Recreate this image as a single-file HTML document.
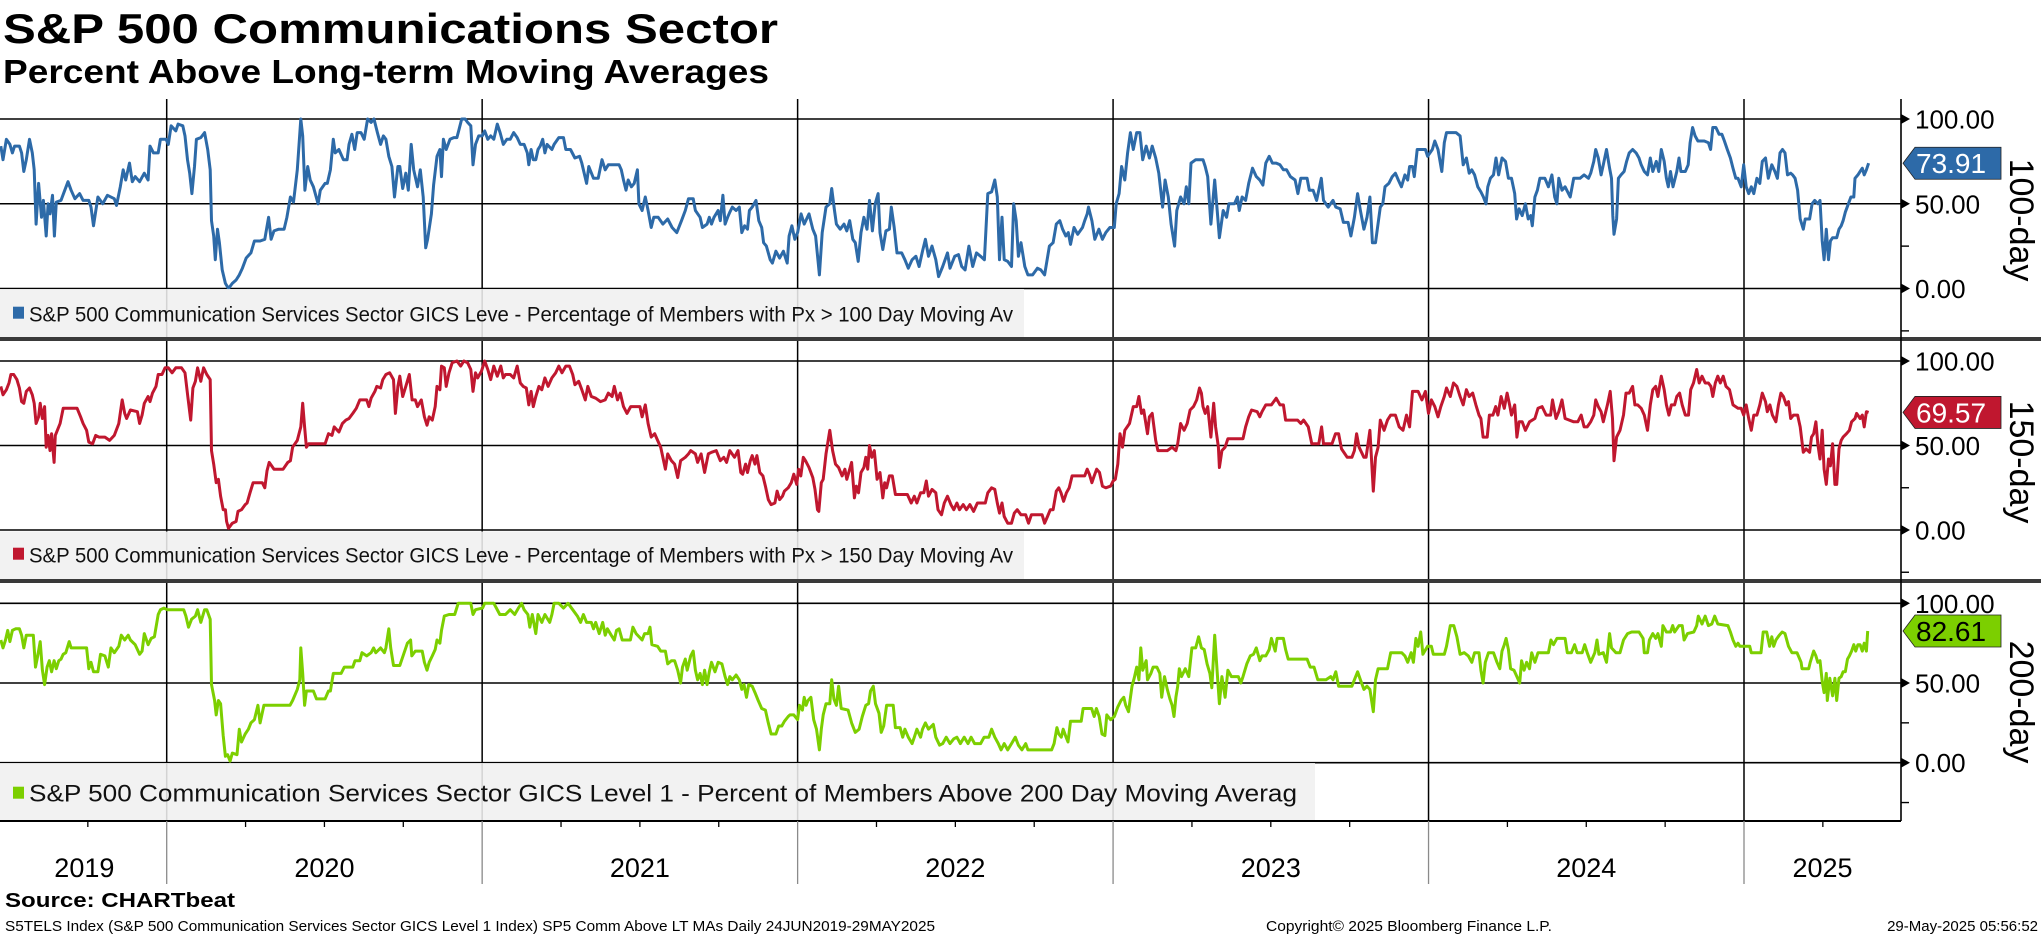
<!DOCTYPE html>
<html><head><meta charset="utf-8"><title>S&amp;P 500 Communications Sector</title>
<style>
html,body{margin:0;padding:0;background:#fff;width:2041px;height:936px;overflow:hidden}
svg{display:block;font-family:"Liberation Sans",sans-serif}
</style></head>
<body>
<svg id="chart" width="2041" height="936" viewBox="0 0 2041 936" xmlns="http://www.w3.org/2000/svg">
<text x="3" y="43" font-size="42" font-weight="bold" textLength="775" lengthAdjust="spacingAndGlyphs">S&amp;P 500 Communications Sector</text>
<text x="3" y="83" font-size="33" font-weight="bold" textLength="766" lengthAdjust="spacingAndGlyphs">Percent Above Long-term Moving Averages</text>
<text x="5" y="907" font-size="20" font-weight="bold" textLength="230" lengthAdjust="spacingAndGlyphs">Source: CHARTbeat</text>
<text x="5" y="931" font-size="15" textLength="930" lengthAdjust="spacingAndGlyphs">S5TELS Index (S&amp;P 500 Communication Services Sector GICS Level 1 Index) SP5 Comm Above LT MAs  Daily 24JUN2019-29MAY2025</text>
<text x="1266" y="931" font-size="15" textLength="286" lengthAdjust="spacingAndGlyphs">Copyright© 2025 Bloomberg Finance L.P.</text>
<text x="2038" y="931" font-size="15" text-anchor="end">29-May-2025 05:56:52</text>
</svg>
<script>
const d100=[2019.474,2019.481,2019.492,2019.503,2019.511,2019.518,2019.533,2019.540,2019.547,2019.555,2019.565,2019.574,2019.580,2019.586,2019.594,2019.603,2019.609,2019.618,2019.624,2019.630,2019.638,2019.644,2019.650,2019.665,2019.677,2019.687,2019.697,2019.709,2019.724,2019.735,2019.753,2019.760,2019.768,2019.782,2019.797,2019.812,2019.834,2019.841,2019.853,2019.862,2019.870,2019.882,2019.891,2019.900,2019.914,2019.929,2019.941,2019.947,2019.958,2019.973,2019.980,2019.998,2020.005,2020.014,2020.029,2020.036,2020.051,2020.058,2020.066,2020.073,2020.080,2020.088,2020.094,2020.108,2020.120,2020.130,2020.138,2020.142,2020.149,2020.154,2020.161,2020.167,2020.176,2020.186,2020.196,2020.208,2020.220,2020.230,2020.240,2020.252,2020.267,2020.278,2020.296,2020.311,2020.323,2020.331,2020.340,2020.355,2020.372,2020.381,2020.392,2020.402,2020.414,2020.425,2020.431,2020.438,2020.447,2020.455,2020.465,2020.480,2020.487,2020.502,2020.509,2020.519,2020.528,2020.534,2020.546,2020.560,2020.572,2020.578,2020.587,2020.596,2020.604,2020.616,2020.626,2020.637,2020.648,2020.657,2020.668,2020.678,2020.687,2020.695,2020.704,2020.714,2020.722,2020.733,2020.739,2020.748,2020.758,2020.766,2020.775,2020.783,2020.795,2020.804,2020.813,2020.821,2020.827,2020.839,2020.846,2020.857,2020.866,2020.871,2020.877,2020.886,2020.898,2020.910,2020.920,2020.927,2020.935,2020.946,2020.954,2020.964,2020.971,2020.979,2020.989,2021.000,2021.008,2021.018,2021.027,2021.037,2021.048,2021.057,2021.067,2021.078,2021.089,2021.100,2021.111,2021.121,2021.133,2021.143,2021.148,2021.155,2021.162,2021.170,2021.177,2021.184,2021.192,2021.199,2021.206,2021.221,2021.228,2021.243,2021.258,2021.265,2021.280,2021.294,2021.309,2021.316,2021.331,2021.338,2021.353,2021.368,2021.380,2021.390,2021.400,2021.419,2021.434,2021.441,2021.448,2021.456,2021.463,2021.473,2021.482,2021.492,2021.497,2021.507,2021.517,2021.526,2021.536,2021.544,2021.558,2021.573,2021.588,2021.602,2021.617,2021.632,2021.644,2021.654,2021.669,2021.676,2021.691,2021.698,2021.713,2021.720,2021.727,2021.735,
2021.748,2021.755,2021.763,2021.770,2021.778,2021.785,2021.793,2021.805,2021.815,2021.823,2021.832,2021.841,2021.847,2021.856,2021.868,2021.877,2021.886,2021.892,2021.901,2021.913,2021.920,2021.931,2021.943,2021.955,2021.967,2021.973,2021.982,2021.991,2022.000,2022.011,2022.021,2022.036,2022.048,2022.057,2022.069,2022.078,2022.090,2022.102,2022.108,2022.117,2022.123,2022.135,2022.147,2022.156,2022.165,2022.175,2022.183,2022.192,2022.201,2022.210,2022.220,2022.228,2022.237,2022.246,2022.255,2022.261,2022.270,2022.280,2022.291,2022.297,2022.306,2022.315,2022.330,2022.340,2022.351,2022.363,2022.375,2022.385,2022.396,2022.405,2022.415,2022.426,2022.438,2022.447,2022.460,2022.475,2022.483,2022.498,2022.510,2022.520,2022.531,2022.543,2022.555,2022.567,2022.580,2022.592,2022.603,2022.615,2022.625,2022.633,2022.640,2022.648,2022.655,2022.666,2022.678,2022.685,2022.693,2022.700,2022.708,2022.720,2022.730,2022.745,2022.760,2022.771,2022.783,2022.798,2022.810,2022.820,2022.831,2022.840,2022.850,2022.858,2022.865,2022.876,2022.888,2022.903,2022.910,2022.918,2022.922,2022.933,2022.942,2022.955,2022.966,2022.977,2022.990,2023.004,2023.010,2023.019,2023.027,2023.037,2023.046,2023.055,2023.064,2023.075,2023.085,2023.094,2023.105,2023.115,2023.124,2023.135,2023.145,2023.157,2023.165,2023.175,2023.184,2023.195,2023.202,2023.214,2023.225,2023.232,2023.240,2023.247,2023.262,2023.285,2023.292,2023.300,2023.310,2023.322,2023.330,2023.337,2023.349,2023.360,2023.367,2023.385,2023.394,2023.400,2023.409,2023.420,2023.430,2023.442,2023.454,2023.465,2023.475,2023.484,2023.495,2023.505,2023.517,2023.529,2023.540,2023.550,2023.562,2023.577,2023.586,2023.595,2023.615,2023.622,2023.634,2023.645,2023.660,2023.667,2023.682,2023.697,2023.706,2023.720,2023.730,2023.745,2023.754,2023.765,2023.775,2023.784,2023.795,2023.805,2023.814,2023.822,2023.832,2023.847,2023.855,2023.862,2023.874,2023.885,2023.895,2023.904,2023.914,2023.925,2023.934,2023.940,2023.949,2023.955,2023.964,2023.990,2023.997,2024.012,2024.020,2024.030,2024.042,2024.050,2024.057,2024.087,
2024.100,2024.110,2024.120,2024.129,2024.137,2024.146,2024.156,2024.166,2024.174,2024.182,2024.188,2024.196,2024.206,2024.214,2024.222,2024.233,2024.244,2024.253,2024.263,2024.273,2024.279,2024.287,2024.297,2024.307,2024.316,2024.324,2024.329,2024.337,2024.345,2024.353,2024.369,2024.380,2024.391,2024.400,2024.407,2024.413,2024.423,2024.433,2024.449,2024.460,2024.480,2024.493,2024.507,2024.514,2024.524,2024.530,2024.538,2024.547,2024.554,2024.564,2024.574,2024.580,2024.584,2024.588,2024.596,2024.602,2024.610,2024.620,2024.628,2024.636,2024.647,2024.658,2024.667,2024.674,2024.684,2024.694,2024.703,2024.711,2024.722,2024.730,2024.738,2024.747,2024.754,2024.760,2024.767,2024.775,2024.787,2024.794,2024.800,2024.814,2024.823,2024.829,2024.837,2024.845,2024.854,2024.874,2024.887,2024.894,2024.901,2024.911,2024.921,2024.930,2024.938,2024.947,2024.957,2024.965,2024.974,2024.981,2024.991,2024.999,2025.007,2025.015,2025.023,2025.031,2025.041,2025.050,2025.058,2025.068,2025.077,2025.088,2025.098,2025.106,2025.114,2025.122,2025.130,2025.138,2025.148,2025.154,2025.162,2025.170,2025.178,2025.188,2025.194,2025.208,2025.216,2025.224,2025.234,2025.241,2025.248,2025.254,2025.261,2025.268,2025.274,2025.281,2025.294,2025.301,2025.308,2025.314,2025.321,2025.331,2025.339,2025.348,2025.352,2025.361,2025.368,2025.375,2025.381,2025.388,2025.395];
const v100=[84,76,88,85,80,84,84,80,69,76,88,80,70,38,62,42,52,31,50,44,55,31,51,52,58,63,58,53,56,52,52,48,37,54,50,55,53,49,60,70,64,74,63,66,63,68,64,84,80,80,88,88,85,96,93,97,96,90,76,68,56,72,88,89,92,82,70,40,31,17,35,27,11,3,0,3,5,8,12,18,21,28,28,29,42,29,34,35,35,42,54,51,70,100,90,58,72,64,60,50,58,62,62,70,88,80,82,76,76,85,91,82,92,92,88,100,98,100,92,85,90,88,78,72,54,72,72,59,68,58,85,70,60,70,54,24,29,44,61,78,82,66,88,82,88,89,89,94,100,100,98,96,73,85,90,90,93,88,90,88,97,92,85,88,88,92,89,85,85,80,73,82,76,76,82,84,88,80,85,82,85,89,89,82,82,77,78,74,62,72,65,65,76,70,73,73,73,70,64,58,64,60,62,70,50,46,54,46,36,42,42,38,41,36,33,40,46,53,53,46,42,36,38,42,38,42,
46,40,55,38,42,45,48,46,48,33,37,35,46,48,52,40,36,27,25,17,15,22,18,22,15,31,37,29,33,44,38,44,35,31,8,33,48,50,59,46,38,35,38,34,40,29,27,16,33,42,35,52,34,50,56,33,23,34,35,48,36,21,21,17,12,17,19,13,22,29,19,25,17,7,13,21,12,19,20,13,11,25,13,21,19,17,56,57,64,54,17,42,17,16,13,50,40,19,27,13,8,8,12,11,8,25,27,38,40,35,31,33,26,36,32,36,40,44,48,40,29,35,29,33,36,36,50,56,72,64,80,92,82,92,92,76,84,77,84,77,68,48,64,54,38,25,46,54,50,60,50,74,76,76,72,66,38,64,46,30,46,42,50,50,54,46,54,52,62,71,66,64,61,74,78,74,74,73,70,70,66,64,56,65,65,58,58,52,65,52,48,52,48,47,39,39,31,42,56,46,35,42,54,27,27,48,50,60,62,66,68,64,60,67,64,72,72,66,82,82,78,82,87,82,69,86,92,92,
90,73,77,68,70,67,60,57,54,50,60,65,67,77,67,77,75,65,65,56,41,47,43,50,41,43,37,54,58,65,65,60,67,54,50,65,58,60,54,65,65,67,65,68,75,82,77,67,73,82,71,65,43,32,41,65,67,69,75,80,82,80,77,73,69,67,77,69,75,69,82,75,65,60,69,60,69,77,69,69,73,86,95,90,87,87,86,82,95,95,91,91,87,82,77,71,65,65,60,73,60,56,60,56,65,62,75,77,65,73,69,65,80,82,80,67,68,67,65,58,41,35,41,41,50,52,50,52,28,17,35,17,28,30,30,35,37,40,45,50,54,54,65,67,69,71,67,70,73.91];

const d150=[2019.474,2019.481,2019.492,2019.500,2019.506,2019.515,2019.525,2019.533,2019.540,2019.547,2019.555,2019.565,2019.574,2019.580,2019.586,2019.594,2019.599,2019.606,2019.613,2019.618,2019.624,2019.630,2019.635,2019.643,2019.647,2019.662,2019.672,2019.716,2019.727,2019.735,2019.746,2019.753,2019.765,2019.775,2019.785,2019.804,2019.819,2019.834,2019.848,2019.859,2019.867,2019.873,2019.885,2019.907,2019.914,2019.922,2019.929,2019.941,2019.947,2019.955,2019.966,2019.973,2019.985,2019.995,2020.005,2020.017,2020.029,2020.047,2020.058,2020.067,2020.076,2020.083,2020.091,2020.098,2020.108,2020.117,2020.127,2020.138,2020.142,2020.149,2020.157,2020.164,2020.171,2020.179,2020.186,2020.190,2020.196,2020.208,2020.220,2020.226,2020.237,2020.249,2020.255,2020.264,2020.274,2020.303,2020.311,2020.318,2020.325,2020.340,2020.369,2020.384,2020.392,2020.399,2020.414,2020.425,2020.431,2020.437,2020.443,2020.450,2020.502,2020.513,2020.524,2020.531,2020.546,2020.557,2020.568,2020.578,2020.590,2020.601,2020.612,2020.634,2020.641,2020.648,2020.660,2020.666,2020.678,2020.685,2020.695,2020.707,2020.719,2020.725,2020.733,2020.739,2020.748,2020.758,2020.769,2020.778,2020.788,2020.795,2020.807,2020.817,2020.825,2020.832,2020.842,2020.851,2020.857,2020.866,2020.871,2020.880,2020.886,2020.895,2020.905,2020.920,2020.932,2020.942,2020.954,2020.964,2020.971,2020.979,2020.986,2020.998,2021.008,2021.018,2021.027,2021.037,2021.048,2021.059,2021.067,2021.074,2021.089,2021.100,2021.111,2021.121,2021.130,2021.140,2021.148,2021.155,2021.162,2021.170,2021.180,2021.189,2021.199,2021.209,2021.221,2021.233,2021.243,2021.253,2021.265,2021.277,2021.287,2021.294,2021.306,2021.316,2021.327,2021.335,2021.346,2021.360,2021.375,2021.390,2021.400,2021.412,2021.419,2021.429,2021.438,2021.448,2021.459,2021.471,2021.500,2021.507,2021.517,2021.526,2021.536,2021.547,2021.556,2021.566,2021.581,2021.588,2021.600,2021.610,2021.620,2021.629,2021.644,2021.654,2021.661,2021.676,2021.683,2021.694,2021.705,2021.717,2021.727,2021.742,
2021.755,2021.766,2021.775,2021.785,2021.800,2021.811,2021.820,2021.826,2021.835,2021.841,2021.850,2021.856,2021.865,2021.871,2021.880,2021.890,2021.898,2021.907,2021.916,2021.928,2021.935,2021.943,2021.952,2021.958,2021.970,2021.980,2021.988,2021.997,2022.003,2022.010,2022.018,2022.025,2022.036,2022.042,2022.048,2022.055,2022.063,2022.067,2022.075,2022.081,2022.090,2022.102,2022.111,2022.120,2022.130,2022.141,2022.150,2022.156,2022.165,2022.171,2022.180,2022.186,2022.193,2022.201,2022.210,2022.216,2022.222,2022.228,2022.235,2022.243,2022.252,2022.261,2022.270,2022.276,2022.282,2022.291,2022.300,2022.310,2022.348,2022.360,2022.370,2022.378,2022.390,2022.400,2022.408,2022.415,2022.426,2022.438,2022.445,2022.456,2022.465,2022.475,2022.486,2022.495,2022.505,2022.513,2022.525,2022.535,2022.546,2022.558,2022.570,2022.595,2022.603,2022.615,2022.625,2022.633,2022.640,2022.648,2022.655,2022.666,2022.678,2022.687,2022.696,2022.708,2022.723,2022.732,2022.741,2022.775,2022.783,2022.792,2022.801,2022.810,2022.820,2022.828,2022.835,2022.843,2022.852,2022.861,2022.870,2022.910,2022.918,2022.925,2022.933,2022.940,2022.948,2022.957,2022.966,2022.977,2022.992,2023.000,2023.007,2023.015,2023.022,2023.030,2023.037,2023.052,2023.064,2023.075,2023.082,2023.090,2023.097,2023.109,2023.115,2023.124,2023.135,2023.142,2023.157,2023.172,2023.187,2023.199,2023.205,2023.214,2023.225,2023.235,2023.244,2023.255,2023.265,2023.274,2023.280,2023.285,2023.292,2023.300,2023.310,2023.319,2023.325,2023.334,2023.337,2023.345,2023.355,2023.364,2023.412,2023.420,2023.430,2023.439,2023.457,2023.465,2023.472,2023.484,2023.502,2023.517,2023.529,2023.540,2023.547,2023.585,2023.595,2023.604,2023.619,2023.630,2023.652,2023.661,2023.667,2023.694,2023.705,2023.715,2023.724,2023.735,2023.742,2023.757,2023.765,2023.772,2023.780,2023.795,2023.802,2023.814,2023.825,2023.832,2023.840,2023.847,2023.859,2023.870,2023.880,2023.895,2023.907,2023.919,2023.930,2023.940,2023.949,2023.967,2023.979,2023.990,2024.000,2024.009,2024.020,2024.030,2024.039,2024.050,2024.057,2024.069,2024.079,2024.090,
2024.100,2024.110,2024.120,2024.129,2024.140,2024.150,2024.160,2024.166,2024.173,2024.186,2024.193,2024.204,2024.213,2024.220,2024.230,2024.240,2024.249,2024.257,2024.263,2024.273,2024.280,2024.287,2024.297,2024.307,2024.320,2024.337,2024.347,2024.360,2024.373,2024.387,2024.393,2024.404,2024.413,2024.423,2024.433,2024.460,2024.473,2024.484,2024.493,2024.503,2024.514,2024.524,2024.530,2024.538,2024.547,2024.554,2024.567,2024.576,2024.583,2024.588,2024.596,2024.607,2024.618,2024.626,2024.636,2024.647,2024.654,2024.663,2024.674,2024.684,2024.694,2024.703,2024.711,2024.720,2024.727,2024.738,2024.747,2024.754,2024.762,2024.770,2024.780,2024.787,2024.796,2024.804,2024.814,2024.824,2024.831,2024.840,2024.850,2024.858,2024.867,2024.877,2024.887,2024.895,2024.901,2024.909,2024.917,2024.925,2024.934,2024.943,2024.954,2024.965,2024.981,2024.991,2024.999,2025.007,2025.015,2025.023,2025.031,2025.041,2025.050,2025.058,2025.068,2025.074,2025.082,2025.090,2025.101,2025.109,2025.117,2025.125,2025.134,2025.141,2025.148,2025.157,2025.170,2025.178,2025.188,2025.197,2025.208,2025.214,2025.221,2025.228,2025.234,2025.241,2025.248,2025.254,2025.261,2025.268,2025.274,2025.281,2025.288,2025.294,2025.301,2025.308,2025.314,2025.325,2025.334,2025.341,2025.352,2025.357,2025.368,2025.375,2025.381,2025.388,2025.395];
const v150=[85,80,83,87,92,92,89,84,76,75,82,84,80,75,63,67,75,66,73,49,56,47,57,40,56,63,72,72,67,63,59,52,51,56,55,55,53,56,63,77,69,66,71,70,63,68,75,79,76,81,85,92,92,96,96,93,96,96,93,79,65,84,88,96,88,96,92,89,47,39,28,30,20,12,12,5,1,4,5,11,12,15,16,22,28,28,25,35,40,36,36,40,41,49,53,61,75,61,49,51,51,57,56,61,58,63,65,66,69,72,77,77,73,78,82,85,84,89,92,93,89,69,85,91,79,85,92,77,77,73,77,67,62,67,65,73,85,83,97,96,85,93,99,100,97,100,99,95,82,93,90,94,100,95,89,97,91,97,90,92,92,90,97,87,85,84,74,82,73,79,85,83,90,85,90,93,97,93,97,97,92,86,88,83,77,85,79,78,76,77,81,79,85,77,81,73,69,73,73,67,74,63,55,57,53,49,36,45,41,39,31,41,43,45,47,45,40,45,34,45,46,47,
41,43,40,47,43,47,34,33,39,34,41,44,39,44,34,32,26,18,15,16,23,18,20,23,25,28,33,27,36,32,43,41,37,34,31,24,12,11,28,30,45,59,47,39,37,32,36,30,36,40,19,26,22,34,37,43,36,50,43,47,30,34,19,28,25,32,32,21,21,16,20,16,22,22,29,20,24,22,12,9,16,20,15,12,16,12,15,12,15,11,16,16,22,25,24,16,10,16,8,4,4,10,12,9,9,4,9,9,4,8,12,12,23,25,22,17,22,25,32,32,36,33,28,32,36,34,26,25,26,29,30,39,57,49,59,63,73,73,79,69,71,57,67,69,53,47,47,47,49,47,51,63,59,63,71,73,77,84,81,73,69,73,55,75,61,49,37,47,49,54,54,61,67,71,70,67,70,74,74,78,74,74,65,65,63,65,61,51,51,61,51,51,57,57,48,45,43,43,47,57,49,43,43,59,23,43,49,65,59,65,68,68,61,59,68,61,82,82,77,82,69,77,73,67,73,79,84,79,87,85,
79,74,83,79,81,74,68,66,55,55,68,68,73,68,79,72,81,74,68,74,55,64,64,59,64,66,72,73,68,68,77,66,70,77,66,64,64,68,61,61,64,68,77,73,70,64,74,82,66,41,55,59,68,81,81,85,74,74,72,68,59,74,83,85,79,91,83,74,68,74,74,79,81,74,68,68,83,87,95,87,91,87,87,85,79,87,91,87,91,85,83,74,72,72,68,74,66,59,68,68,74,81,76,70,74,68,64,74,81,79,74,76,66,68,68,61,46,48,46,55,57,64,51,42,59,36,27,42,38,51,27,27,48,53,55,57,59,64,66,69,66,68,61,70,69.57];

const d200=[2019.474,2019.481,2019.489,2019.496,2019.503,2019.511,2019.521,2019.533,2019.540,2019.547,2019.555,2019.577,2019.584,2019.591,2019.599,2019.606,2019.613,2019.621,2019.628,2019.635,2019.643,2019.650,2019.658,2019.665,2019.672,2019.680,2019.691,2019.697,2019.746,2019.753,2019.760,2019.768,2019.782,2019.790,2019.804,2019.815,2019.823,2019.834,2019.848,2019.856,2019.867,2019.878,2019.885,2019.900,2019.914,2019.922,2019.929,2019.941,2019.951,2019.961,2019.973,2019.980,2019.991,2020.002,2020.054,2020.061,2020.069,2020.079,2020.091,2020.098,2020.108,2020.120,2020.127,2020.138,2020.142,2020.152,2020.157,2020.164,2020.171,2020.179,2020.186,2020.193,2020.201,2020.208,2020.223,2020.230,2020.237,2020.249,2020.259,2020.267,2020.278,2020.289,2020.296,2020.308,2020.391,2020.399,2020.414,2020.422,2020.425,2020.431,2020.437,2020.443,2020.465,2020.475,2020.502,2020.513,2020.519,2020.528,2020.553,2020.563,2020.590,2020.597,2020.612,2020.619,2020.634,2020.648,2020.656,2020.663,2020.678,2020.690,2020.695,2020.704,2020.710,2020.719,2020.739,2020.751,2020.763,2020.773,2020.777,2020.788,2020.810,2020.817,2020.825,2020.832,2020.842,2020.851,2020.857,2020.866,2020.871,2020.880,2020.895,2020.913,2020.924,2020.964,2020.971,2020.979,2021.001,2021.008,2021.037,2021.045,2021.056,2021.074,2021.089,2021.103,2021.115,2021.125,2021.133,2021.145,2021.151,2021.159,2021.170,2021.177,2021.189,2021.199,2021.214,2021.221,2021.228,2021.243,2021.258,2021.272,2021.287,2021.302,2021.312,2021.321,2021.331,2021.346,2021.353,2021.360,2021.371,2021.382,2021.390,2021.397,2021.409,2021.419,2021.426,2021.434,2021.444,2021.470,2021.478,2021.488,2021.507,2021.515,2021.526,2021.532,2021.538,2021.556,2021.566,2021.581,2021.588,2021.600,2021.610,2021.620,2021.629,2021.635,2021.644,2021.650,2021.661,2021.669,2021.676,2021.683,2021.691,2021.698,2021.705,2021.713,2021.720,2021.727,2021.738,
2021.748,2021.760,2021.770,2021.778,2021.785,2021.793,2021.805,2021.815,2021.823,2021.830,2021.838,2021.845,2021.856,2021.865,2021.875,2021.886,2021.898,2021.907,2021.916,2021.931,2021.940,2021.950,2021.958,2021.970,2021.976,2021.988,2022.000,2022.006,2022.015,2022.021,2022.027,2022.033,2022.042,2022.051,2022.060,2022.069,2022.075,2022.081,2022.090,2022.102,2022.108,2022.115,2022.123,2022.130,2022.138,2022.160,2022.171,2022.183,2022.195,2022.205,2022.216,2022.225,2022.231,2022.240,2022.247,2022.258,2022.265,2022.273,2022.282,2022.303,2022.310,2022.325,2022.333,2022.340,2022.351,2022.363,2022.370,2022.378,2022.390,2022.396,2022.405,2022.415,2022.430,2022.438,2022.450,2022.460,2022.471,2022.483,2022.495,2022.505,2022.516,2022.528,2022.540,2022.550,2022.561,2022.580,2022.591,2022.606,2022.615,2022.625,2022.636,2022.645,2022.655,2022.666,2022.678,2022.690,2022.700,2022.711,2022.723,2022.730,2022.805,2022.813,2022.822,2022.828,2022.836,2022.842,2022.851,2022.857,2022.865,2022.899,2022.905,2022.932,2022.940,2022.947,2022.956,2022.965,2022.974,2022.980,2022.992,2023.004,2023.015,2023.025,2023.034,2023.040,2023.049,2023.060,2023.067,2023.075,2023.082,2023.088,2023.094,2023.105,2023.109,2023.120,2023.127,2023.139,2023.148,2023.154,2023.163,2023.172,2023.180,2023.187,2023.193,2023.199,2023.205,2023.210,2023.217,2023.229,2023.240,2023.250,2023.262,2023.271,2023.280,2023.289,2023.298,2023.307,2023.313,2023.322,2023.331,2023.337,2023.345,2023.355,2023.364,2023.375,2023.397,2023.405,2023.412,2023.424,2023.435,2023.445,2023.454,2023.465,2023.472,2023.484,2023.495,2023.502,2023.514,2023.520,2023.540,2023.547,2023.555,2023.615,2023.625,2023.637,2023.649,2023.675,2023.690,2023.697,2023.706,2023.715,2023.757,2023.765,2023.775,2023.784,2023.795,2023.805,2023.814,2023.825,2023.832,2023.840,2023.870,2023.880,2023.915,2023.925,2023.934,2023.945,2023.952,2023.960,2023.967,2023.975,2023.982,2023.997,2024.009,2024.015,2024.050,2024.057,2024.069,2024.080,2024.090,
2024.100,2024.113,2024.126,2024.137,2024.146,2024.160,2024.166,2024.173,2024.180,2024.190,2024.206,2024.217,2024.226,2024.233,2024.240,2024.246,2024.253,2024.260,2024.271,2024.280,2024.289,2024.295,2024.303,2024.311,2024.320,2024.327,2024.337,2024.347,2024.380,2024.388,2024.396,2024.407,2024.433,2024.440,2024.453,2024.463,2024.471,2024.487,2024.495,2024.503,2024.514,2024.527,2024.534,2024.540,2024.554,2024.564,2024.574,2024.580,2024.594,2024.607,2024.618,2024.631,2024.644,2024.667,2024.680,2024.684,2024.694,2024.700,2024.711,2024.720,2024.727,2024.738,2024.743,2024.754,2024.767,2024.774,2024.780,2024.794,2024.804,2024.810,2024.821,2024.841,2024.850,2024.855,2024.867,2024.877,2024.887,2024.898,2024.907,2024.917,2024.949,2024.957,2024.965,2024.974,2024.981,2024.987,2025.018,2025.023,2025.054,2025.061,2025.072,2025.081,2025.088,2025.094,2025.101,2025.112,2025.121,2025.130,2025.141,2025.152,2025.168,2025.181,2025.184,2025.205,2025.210,2025.221,2025.228,2025.234,2025.241,2025.248,2025.254,2025.261,2025.264,2025.272,2025.281,2025.288,2025.294,2025.301,2025.308,2025.314,2025.321,2025.328,2025.334,2025.341,2025.348,2025.354,2025.361,2025.368,2025.375,2025.381,2025.388,2025.392];
const v200=[77,72,77,83,76,83,84,84,80,72,80,80,60,67,76,58,49,60,64,57,64,59,64,65,68,69,76,72,72,59,63,57,57,68,67,60,72,69,73,80,77,80,77,74,68,70,81,74,78,79,93,96,97,96,96,92,85,90,92,96,88,96,96,90,49,39,30,39,37,17,4,5,1,6,5,21,13,18,21,25,27,36,25,36,36,39,46,52,72,56,36,45,45,40,40,45,45,56,56,60,60,64,64,69,67,69,72,69,72,69,72,84,72,61,61,68,75,77,67,70,70,63,58,63,67,71,77,75,83,92,93,93,100,100,93,96,97,100,100,97,93,93,96,93,97,100,96,93,85,93,81,93,88,93,88,93,100,100,97,100,96,92,88,93,88,88,84,88,81,88,80,84,80,77,83,84,77,77,85,81,77,81,81,85,74,73,70,70,62,64,64,58,50,60,65,58,67,70,58,52,56,49,58,49,57,63,57,
63,62,54,49,54,52,55,52,46,49,41,49,48,44,39,34,33,25,18,18,23,23,26,29,30,30,27,36,33,41,36,39,41,27,21,8,21,30,37,37,52,40,36,48,34,33,25,19,21,29,36,37,45,48,37,31,19,23,36,36,22,22,16,21,16,12,16,21,16,21,25,21,24,16,11,12,16,12,15,16,12,16,12,16,12,12,16,16,21,16,12,8,12,8,12,16,11,8,12,8,8,12,22,18,16,21,16,13,26,26,34,34,29,34,29,18,17,30,27,29,35,39,41,36,32,48,53,60,52,72,58,64,52,56,60,60,56,41,54,46,40,36,29,41,48,59,54,59,54,72,72,79,72,71,62,56,47,80,54,37,54,41,58,54,54,50,54,62,67,68,72,64,67,67,71,78,70,78,78,71,65,65,60,60,52,52,54,52,57,48,48,52,57,52,46,48,46,32,52,59,59,69,69,67,63,69,63,78,73,82,68,73,73,68,68,73,86,86,79,
68,69,67,63,69,69,58,50,63,69,69,63,59,70,74,78,71,59,58,54,50,64,58,63,59,69,63,69,69,77,74,78,78,69,69,74,69,69,74,69,63,69,77,68,69,63,81,72,69,69,77,81,82,82,78,69,69,77,81,78,81,73,86,82,82,86,82,86,86,77,81,82,86,92,87,92,86,87,92,87,86,82,77,73,75,73,73,69,69,82,82,73,79,73,77,80,82,81,73,69,69,63,59,59,63,70,67,63,64,51,44,56,39,53,42,53,39,53,54,57,57,65,67,70,74,70,74,74,70,75,70,82.61];

const yearLabels=['2019','2020','2021','2022','2023','2024','2025'];
const yearStarts=[2019.474,2020,2021,2022,2023,2024,2025];
const tickValues=[100,50,0];
const tickLabels=['100.00','50.00','0.00'];
const minorTicks=[25,-25];

const NS='http://www.w3.org/2000/svg';
const svg=document.getElementById('chart');
const X0=166.7, XPY=315.46, AXIS_X=1901, PLOT_RIGHT=1901;
function xs(t){return X0+(t-2020)*XPY;}
function mk(tag,attrs,parent){const e=document.createElementNS(NS,tag);for(const k in attrs)e.setAttribute(k,attrs[k]);(parent||svg).appendChild(e);return e;}

const panels=[
 {key:'100',dates:d100,vals:v100,color:'#2d6aa8',tagText:'#fff',top:99,bottom:337,y0:288.5,k:1.695,legY:289,legH:48,legW:1024,legFs:21,legText:'S&P 500 Communication Services Sector GICS Leve - Percentage of Members with Px > 100 Day Moving Av',legLen:984,legBase:321.7,label:'100-day'},
 {key:'150',dates:d150,vals:v150,color:'#c0172f',tagText:'#fff',top:341,bottom:579,y0:530,k:1.69,legY:531.5,legH:47.5,legW:1024,legFs:21,legText:'S&P 500 Communication Services Sector GICS Leve - Percentage of Members with Px > 150 Day Moving Av',legLen:984,legBase:562.7,label:'150-day'},
 {key:'200',dates:d200,vals:v200,color:'#7ccf00',tagText:'#000',top:583,bottom:821,y0:762.7,k:1.594,legY:763,legH:57,legW:1315,legFs:24,legText:'S&P 500 Communication Services Sector GICS Level 1 - Percent of Members Above 200 Day Moving Averag',legLen:1268,legBase:801.7,label:'200-day'}
];

panels.forEach(function(p,pi){
  const g=mk('g',{});
  
  
  const ys=function(v){return p.y0-v*p.k;};
  tickValues.forEach(function(v,i){
    const ln=mk('line',{x1:0,x2:PLOT_RIGHT,y1:ys(v),y2:ys(v),stroke:'#000','stroke-width':1.6},g);
    
    
    const tri=mk('polygon',{points:(AXIS_X)+','+(ys(v)-5)+' '+(AXIS_X+9)+','+ys(v)+' '+(AXIS_X)+','+(ys(v)+5),fill:'#000'},g);
    
    
    const tl=mk('text',{x:1915,y:ys(v)+9.5,'font-size':26,fill:'#000'},g);
    tl.textContent=tickLabels[i];
    
    
  });
  minorTicks.forEach(function(v){
    const mt=mk('line',{x1:AXIS_X,x2:AXIS_X+8,y1:ys(v),y2:ys(v),stroke:'#000','stroke-width':1.4},g);
    
    
  });
  yearStarts.forEach(function(t,i){
    if(i===0)return;
    const vl=mk('line',{x1:xs(t),x2:xs(t),y1:p.top,y2:p.bottom,stroke:'#000','stroke-width':1.5},g);
    
    
  });
  let pts='';
  for(let i=0;i<p.dates.length;i++){pts+=xs(p.dates[i]).toFixed(1)+','+ys(p.vals[i]).toFixed(1)+' ';}
  const line=mk('polyline',{points:pts,fill:'none',stroke:p.color,'stroke-width':3,'stroke-linejoin':'round'},g);
  
  
  const lg=mk('g',{},g);
  
  
  mk('rect',{x:0,y:p.legY,width:p.legW,height:p.legH,fill:'rgba(240,240,240,0.88)'},lg);
  const sw=mk('rect',{x:13,y:p.legBase-15,width:11,height:12,fill:p.color},lg);
  
  
  const lt=mk('text',{x:29,y:p.legBase,'font-size':p.legFs,fill:'#111',textLength:p.legLen,lengthAdjust:'spacingAndGlyphs'},lg);
  lt.textContent=p.legText;
  
  
  const last=p.vals[p.vals.length-1];
  const ty=ys(last);
  const tag=mk('polygon',{points:(AXIS_X+2)+','+ty+' '+(AXIS_X+14)+','+(ty-16)+' 2001,'+(ty-16)+' 2001,'+(ty+16)+' '+(AXIS_X+14)+','+(ty+16),fill:p.color,stroke:'#222','stroke-width':0.8},g);
  
  
  const tt=mk('text',{x:1916,y:ty+10,'font-size':28,fill:p.tagText},g);
  tt.textContent=last.toFixed(2);
  
  
  const cy=(p.top+p.bottom)/2-0.5+ (pi===2?-16:0);
  const rl=mk('text',{x:0,y:0,'font-size':34,'text-anchor':'middle',transform:'translate(2010,'+(pi===0?220:(pi===1?462:702))+') rotate(90)'},g);
  rl.textContent=p.label;
  
  
  if(pi<2){
    const sep=mk('rect',{x:0,y:p.bottom,width:2041,height:4,fill:'#3a3a3a'},g);
    
    
  }
});

const ax=mk('line',{x1:AXIS_X,x2:AXIS_X,y1:99,y2:821,stroke:'#000','stroke-width':1.6});


const bx=mk('line',{x1:0,x2:AXIS_X,y1:821,y2:821,stroke:'#000','stroke-width':2});


for(let y=2019.75;y<2025.45;y+=0.25){
  if(Math.abs(y-Math.round(y))<0.01)continue;
  const q=mk('line',{x1:xs(y),x2:xs(y),y1:821,y2:827,stroke:'#000','stroke-width':1.3});
  
  
}
yearStarts.forEach(function(t,i){
  if(i>0){
    const s=mk('line',{x1:xs(t),x2:xs(t),y1:821,y2:884,stroke:'#8a8a8a','stroke-width':1.3});
    
    
  }
  const a=Math.max(2,xs(t));
  const b=(i<yearStarts.length-1)?xs(yearStarts[i+1]):AXIS_X;
  const yl=mk('text',{x:(a+b)/2,y:877,'font-size':27,'text-anchor':'middle',fill:'#000'});
  yl.textContent=yearLabels[i];
  
  
});
</script>
</body></html>
